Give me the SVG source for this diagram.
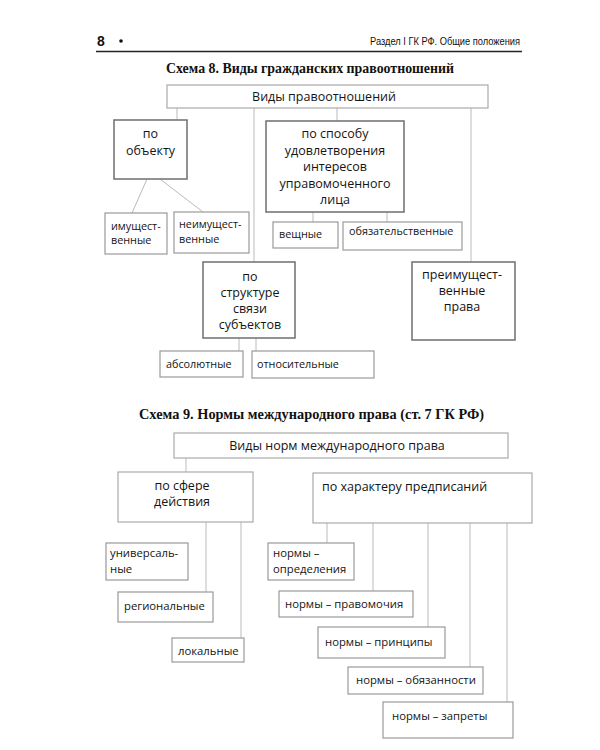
<svg xmlns="http://www.w3.org/2000/svg" width="600" height="750" viewBox="0 0 600 750">
<style>
.t{font-family:"Open Sans","Noto Sans",sans-serif;fill:#151515}
.c{text-anchor:middle}
.f13{font-size:12.5px}
.f12{font-size:11.3px}
.f11{font-size:10.8px}
.ttl{font-family:"Liberation Serif",serif;font-weight:bold;font-size:15px;fill:#111}
.b1{fill:#fff;stroke:#aaa;stroke-width:1.2}
.b2{fill:#fff;stroke:#777;stroke-width:1.6}
.b3{fill:#fff;stroke:#999;stroke-width:1.2}
.ln{stroke:#bbb;stroke-width:1;fill:none}
</style>
<rect width="600" height="750" fill="#fff"/>
<g id="header">
<text x="97" y="46" style="font-family:'Liberation Sans',sans-serif;font-weight:bold;font-size:14px;fill:#111">8</text>
<circle cx="121" cy="41" r="1.8" fill="#111"/>
<text x="370" y="45" textLength="150" lengthAdjust="spacingAndGlyphs" style="font-family:'Liberation Sans',sans-serif;font-size:11px;fill:#111">Раздел I ГК РФ. Общие положения</text>
<line x1="96" y1="51.5" x2="522" y2="51.5" stroke="#222" stroke-width="1.5"/>
</g>
<text class="ttl" x="166" y="73" textLength="288" lengthAdjust="spacingAndGlyphs">Схема 8. Виды гражданских правоотношений</text>
<text class="ttl" x="139" y="419" textLength="345" lengthAdjust="spacingAndGlyphs">Схема 9. Нормы международного права (ст. 7 ГК РФ)</text>
<g id="connectors">
<line class="ln" x1="177" y1="108" x2="177" y2="120"/>
<line class="ln" x1="337" y1="108" x2="337" y2="121"/>
<line class="ln" x1="254" y1="108" x2="254" y2="262"/>
<line class="ln" x1="471" y1="108" x2="471" y2="262"/>
<line class="ln" x1="147" y1="179" x2="132" y2="213"/>
<line class="ln" x1="160" y1="179" x2="203" y2="212"/>
<line class="ln" x1="313" y1="212" x2="313" y2="222"/>
<line class="ln" x1="387" y1="212" x2="387" y2="222"/>
<line class="ln" x1="239" y1="338" x2="239" y2="351"/>
<line class="ln" x1="256" y1="338" x2="256" y2="351"/>
<line class="ln" x1="186" y1="458" x2="186" y2="472"/>
<line class="ln" x1="206" y1="522" x2="206" y2="592"/>
<line class="ln" x1="241" y1="522" x2="241" y2="638"/>
<line class="ln" x1="327" y1="523" x2="327" y2="543"/>
<line class="ln" x1="373" y1="523" x2="373" y2="591"/>
<line class="ln" x1="428" y1="523" x2="428" y2="627"/>
<line class="ln" x1="470" y1="523" x2="470" y2="667"/>
<line class="ln" x1="507" y1="523" x2="507" y2="702"/>
</g>
<g id="n_vidy">
<rect class="b1" x="167" y="85" width="321" height="23"/>
<text class="t f13 c" x="324" y="101">Виды  правоотношений</text>
</g>
<g id="n_po_obektu">
<rect class="b2" x="114" y="120" width="73" height="59"/>
<text class="t f13 c" x="150.5" y="138">по</text>
<text class="t f13 c" x="150.5" y="155">объекту</text>
</g>
<g id="n_imush">
<rect class="b3" x="105" y="213" width="62" height="41"/>
<text class="t f11" x="111" y="230">имущест-</text>
<text class="t f11" x="111" y="244">венные</text>
</g>
<g id="n_neimush">
<rect class="b3" x="174" y="212" width="75" height="41"/>
<text class="t f11" x="179" y="228">неимущест-</text>
<text class="t f11" x="179" y="243">венные</text>
</g>
<g id="n_po_sposobu">
<rect class="b2" x="266" y="121" width="138" height="91"/>
<text class="t f13 c" x="335" y="138">по способу</text>
<text class="t f13 c" x="335" y="155">удовлетворения</text>
<text class="t f13 c" x="335" y="171">интересов</text>
<text class="t f13 c" x="335" y="188">управомоченного</text>
<text class="t f13 c" x="335" y="204">лица</text>
</g>
<g id="n_veshnye">
<rect class="b3" x="273" y="222" width="65" height="26"/>
<text class="t f11" x="279" y="238">вещные</text>
</g>
<g id="n_obyaz">
<rect class="b3" x="343" y="222" width="119" height="28"/>
<text class="t f11" x="349" y="235">обязательственные</text>
</g>
<g id="n_po_strukture">
<rect class="b2" x="203" y="262" width="92" height="76"/>
<text class="t f13 c" x="250" y="281">по</text>
<text class="t f13 c" x="250" y="297">структуре</text>
<text class="t f13 c" x="250" y="313">связи</text>
<text class="t f13 c" x="250" y="329">субъектов</text>
</g>
<g id="n_absol">
<rect class="b3" x="160" y="351" width="83" height="26"/>
<text class="t f11" x="166" y="368">абсолютные</text>
</g>
<g id="n_otnos">
<rect class="b3" x="252" y="351" width="122" height="27"/>
<text class="t f11" x="257" y="368">относительные</text>
</g>
<g id="n_preimush">
<rect class="b2" x="412" y="262" width="103" height="78"/>
<text class="t f13 c" x="462" y="279">преимущест-</text>
<text class="t f13 c" x="462" y="295">венные</text>
<text class="t f13 c" x="462" y="311">права</text>
</g>
<g id="n_vidy_norm">
<rect class="b1" x="174" y="433" width="334" height="25"/>
<text class="t f13 c" x="337" y="450">Виды  норм международного права</text>
</g>
<g id="n_po_sfere">
<rect class="b1" x="118" y="472" width="135" height="50"/>
<text class="t f13 c" x="182" y="490">по сфере</text>
<text class="t f13 c" x="182" y="506">действия</text>
</g>
<g id="n_po_harakteru">
<rect class="b1" x="313" y="473" width="219" height="50"/>
<text class="t f13" x="322" y="491">по характеру предписаний</text>
</g>
<g id="n_univers">
<rect class="b3" x="106" y="543" width="82" height="37"/>
<text class="t f12" x="110" y="557">универсаль-</text>
<text class="t f12" x="110" y="573">ные</text>
</g>
<g id="n_region">
<rect class="b3" x="118" y="592" width="95" height="30"/>
<text class="t f12" x="124" y="610">региональные</text>
</g>
<g id="n_lokal">
<rect class="b3" x="172" y="638" width="72" height="24"/>
<text class="t f12" x="178" y="655">локальные</text>
</g>
<g id="n_opred">
<rect class="b3" x="268" y="543" width="86" height="37"/>
<text class="t f12" x="273" y="557">нормы –</text>
<text class="t f12" x="273" y="573">определения</text>
</g>
<g id="n_pravomoch">
<rect class="b3" x="279" y="591" width="134" height="26"/>
<text class="t f12" x="285" y="608">нормы  – правомочия</text>
</g>
<g id="n_princip">
<rect class="b3" x="318" y="627" width="127" height="31"/>
<text class="t f12" x="325" y="646">нормы  – принципы</text>
</g>
<g id="n_obyazan">
<rect class="b3" x="348" y="667" width="135" height="27"/>
<text class="t f12" x="356" y="684">нормы  – обязанности</text>
</g>
<g id="n_zaprety">
<rect class="b3" x="383" y="702" width="130" height="36"/>
<text class="t f12" x="392" y="720">нормы  – запреты</text>
</g>
</svg>
